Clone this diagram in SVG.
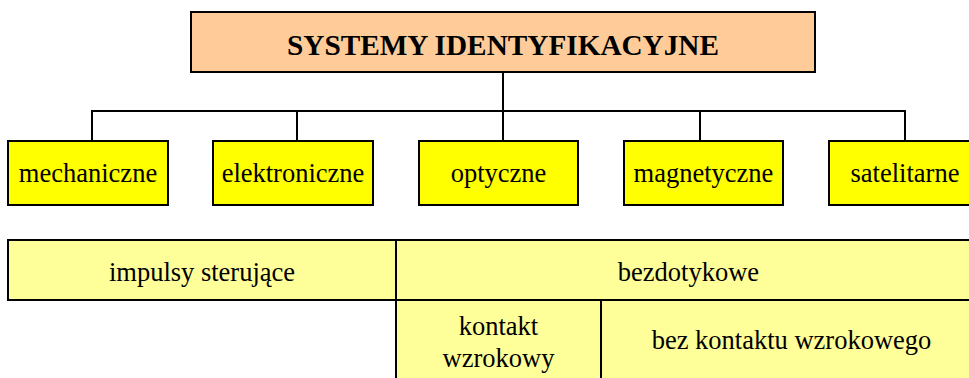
<svg xmlns="http://www.w3.org/2000/svg" width="969" height="378" viewBox="0 0 969 378">
<style>
.t{font-family:"Liberation Serif","Times New Roman",serif;font-size:26.5px;fill:#000;text-anchor:middle}
.title{font-family:"Liberation Serif","Times New Roman",serif;font-size:28.5px;font-weight:bold;fill:#000;text-anchor:middle}
.cat{fill:#FFFF00;stroke:#000;stroke-width:2}
.cell{fill:#FFFF99;stroke:none}
.ln{stroke:#000;stroke-width:2;fill:none}
</style>
<rect width="969" height="378" fill="#fff"/>
<g id="connectors">
<path class="ln" d="M503 72V111M92 141V111H905V141M297 111V141M503 111V141M700 111V141"/>
</g>
<g id="root">
<rect x="191" y="12" width="624" height="60" fill="#FFCC99" stroke="#000" stroke-width="2"/>
<text class="title" x="503" y="55" textLength="432" lengthAdjust="spacingAndGlyphs">SYSTEMY IDENTYFIKACYJNE</text>
</g>
<g id="mechaniczne">
<rect class="cat" x="8" y="141" width="160" height="64"/>
<text class="t" x="88" y="182">mechaniczne</text>
</g>
<g id="elektroniczne">
<rect class="cat" x="213" y="141" width="160" height="64"/>
<text class="t" x="293" y="182">elektroniczne</text>
</g>
<g id="optyczne">
<rect class="cat" x="419" y="141" width="159" height="64"/>
<text class="t" x="498.5" y="182">optyczne</text>
</g>
<g id="magnetyczne">
<rect class="cat" x="624" y="141" width="159" height="64"/>
<text class="t" x="703.5" y="182">magnetyczne</text>
</g>
<g id="satelitarne">
<rect class="cat" x="829" y="141" width="152" height="64"/>
<text class="t" x="905" y="182">satelitarne</text>
</g>
<g id="table">
<rect class="cell" x="8" y="240" width="975" height="60"/>
<rect class="cell" x="396" y="300" width="587" height="80"/>
<path class="ln" d="M983 240H8V300H983M396 240V380M601 300V380"/>
<text class="t" x="202" y="281">impulsy sterujące</text>
<text class="t" x="688.5" y="281">bezdotykowe</text>
<text class="t" x="498.5" y="335">kontakt</text>
<text class="t" x="498.5" y="366.5">wzrokowy</text>
<text class="t" x="791.5" y="348.5">bez kontaktu wzrokowego</text>
</g>
</svg>
